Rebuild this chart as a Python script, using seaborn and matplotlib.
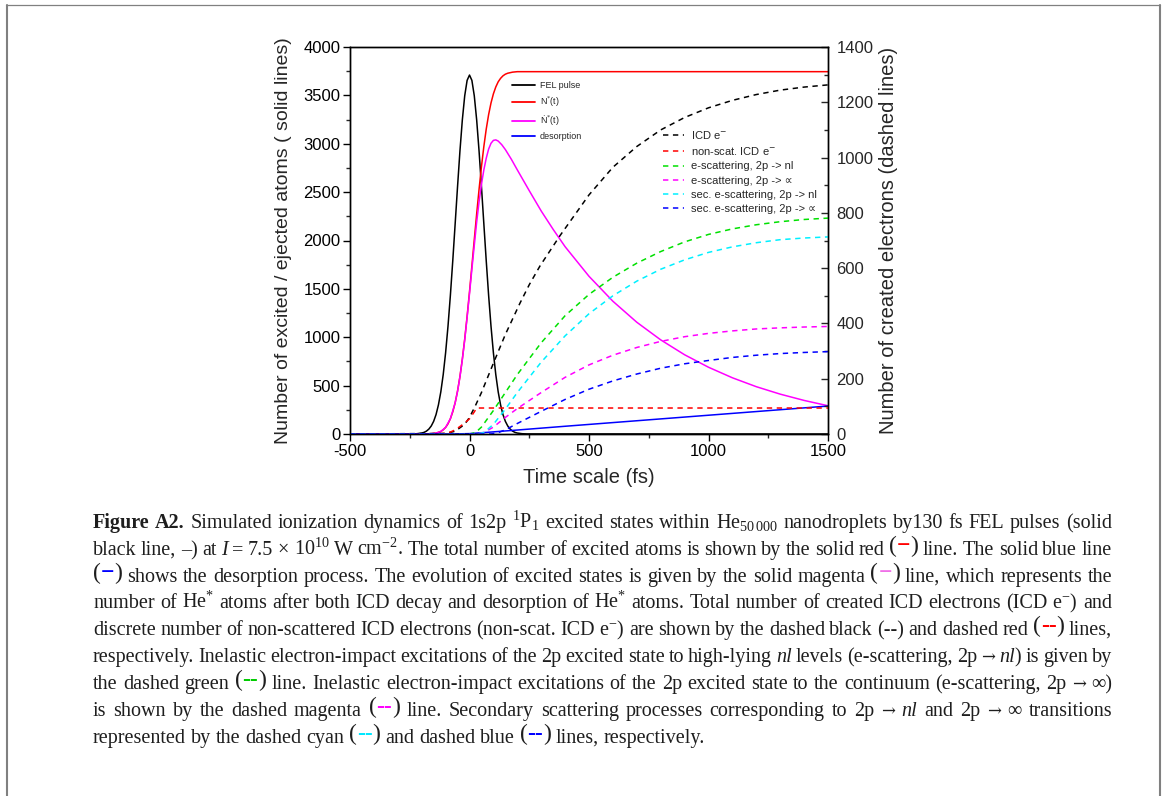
"""
Ionization dynamics of 1s2p 1P1 excited states in He nanodroplets (Figure A2).
Values read off the published figure; caption redrawn as text underneath.
"""
import matplotlib
matplotlib.use("Agg")
import matplotlib.pyplot as plt
import seaborn as sns
from matplotlib.lines import Line2D
from matplotlib.ticker import MultipleLocator

W, H = 1165, 796

# ── solid lines, left axis (atoms) ───────────────────────────────────────────
T_FEL = [-500, -240, -220, -200, -190, -180, -170, -160, -150, -140, -130, -120, -110, -100,
         -90, -80, -70, -60, -50, -40, -30, -20, -10, 0, 10, 20, 30, 40, 50, 60, 70, 80, 90,
         100, 110, 120, 130, 140, 150, 160, 170, 180, 190, 200, 220, 240, 1500]
FEL = [0, 1, 3, 10, 17, 30, 51, 83, 131, 201, 301, 436, 614, 839,
       1113, 1433, 1791, 2173, 2558, 2925, 3246, 3496, 3655, 3710, 3655, 3496, 3246, 2925,
       2558, 2173, 1791, 1433, 1113, 839, 614, 436, 301, 201, 131, 83, 51, 30, 17, 10, 3, 1, 0]

T_NSTAR = [-500, -200, -160, -140, -120, -110, -100, -90, -80, -70, -60, -50, -40, -30, -20,
           -10, 0, 10, 20, 30, 40, 50, 60, 70, 80, 90, 100, 110, 120, 130, 140, 150, 160,
           180, 200, 1500]
NSTAR = [0, 0, 3, 9, 26, 43, 68, 105, 158, 229, 323, 444, 594, 774, 982,
         1216, 1470, 1737, 2008, 2275, 2529, 2763, 2971, 3151, 3301, 3422, 3516, 3587, 3640,
         3676, 3702, 3719, 3729, 3740, 3745, 3745]

T_NDOT = [-500, -200, -160, -140, -120, -100, -80, -60, -50, -40, -30, -20, -10, 0, 10, 20,
          30, 40, 50, 60, 70, 80, 90, 100, 110, 120, 135, 150, 175, 200, 250, 300, 350, 400,
          500, 600, 700, 800, 900, 1000, 1100, 1200, 1300, 1400, 1500]
NDOT = [0, 0, 3, 9, 26, 68, 158, 322, 442, 590, 768, 972, 1205, 1450, 1705, 1950,
        2190, 2400, 2580, 2730, 2850, 2945, 3005, 3035, 3040, 3028, 2990, 2940, 2840, 2730,
        2515, 2305, 2115, 1936, 1630, 1372, 1155, 973, 819, 690, 581, 489, 412, 347, 292]

T_DESORB = [-500, -80, 0, 100, 200, 400, 700, 1000, 1300, 1500]
DESORB = [0, 0, 4, 22, 41, 80, 137, 194, 251, 289]

# ── dashed lines, right axis (electrons) ─────────────────────────────────────
T_ICD = [-500, -100, -60, -20, 0, 25, 50, 100, 150, 211, 250, 295, 379, 500, 600, 700, 800,
         900, 1000, 1100, 1200, 1300, 1400, 1500]
ICD = [0, 2, 10, 35, 60, 103, 150, 256, 360, 473, 540, 608, 718, 865, 965, 1040, 1100,
       1145, 1180, 1207, 1228, 1244, 1255, 1263]

T_NONSCAT = [-500, -140, -120, -100, -80, -60, -40, -20, 0, 20, 30, 1500]
NONSCAT = [0, 0, 1, 3, 7, 15, 27, 40, 55, 80, 94, 94]

T_ESC_NL = [-500, 0, 25, 50, 100, 150, 200, 300, 400, 500, 600, 700, 800, 900, 1000,
            1100, 1200, 1300, 1400, 1500]
ESC_NL = [0, 0, 5, 25, 85, 150, 215, 330, 428, 505, 567, 618, 660, 695, 722,
          742, 757, 768, 776, 781]

T_ESC_INF = [-500, 30, 60, 100, 150, 200, 300, 400, 500, 600, 700, 800, 900, 1000,
             1100, 1200, 1300, 1400, 1500]
ESC_INF = [0, 0, 5, 25, 60, 92, 150, 205, 250, 285, 313, 335, 352, 364,
           373, 380, 384, 387, 389]

T_SEC_NL = [-500, 30, 60, 100, 150, 200, 300, 400, 500, 600, 700, 800, 900, 1000,
            1100, 1200, 1300, 1400, 1500]
SEC_NL = [0, 0, 5, 35, 90, 150, 260, 355, 435, 500, 553, 596, 630, 657,
          677, 692, 703, 709, 713]

T_SEC_INF = [-500, 90, 120, 150, 200, 300, 400, 500, 600, 700, 800, 900, 1000, 1100,
             1200, 1300, 1400, 1500]
SEC_INF = [0, 0, 5, 15, 38, 82, 125, 162, 192, 217, 238, 254, 266, 277,
           285, 291, 295, 298]

SOLID = [
    ("FEL pulse", T_FEL, FEL, "black"),
    ("N$^{*}$(t)", T_NSTAR, NSTAR, "#ff0000"),
    ("Ṅ$^{*}$(t)", T_NDOT, NDOT, "#ff00ff"),
    ("desorption", T_DESORB, DESORB, "#0000ff"),
]
DASHED = [
    ("ICD e$^{-}$", T_ICD, ICD, "black"),
    ("non-scat. ICD e$^{-}$", T_NONSCAT, NONSCAT, "#ff0000"),
    ("e-scattering, 2p -> nl", T_ESC_NL, ESC_NL, "#00e000"),
    ("e-scattering, 2p -> ∝", T_ESC_INF, ESC_INF, "#ff00ff"),
    ("sec. e-scattering, 2p -> nl", T_SEC_NL, SEC_NL, "#00f0ff"),
    ("sec. e-scattering, 2p -> ∝", T_SEC_INF, SEC_INF, "#0000ff"),
]
DASH = (0, (3.5, 3))

sns.set_style("ticks")
plt.rcParams["font.family"] = ["Liberation Sans", "DejaVu Sans"]
plt.rcParams["axes.unicode_minus"] = False
plt.rcParams["mathtext.fontset"] = "custom"
plt.rcParams["mathtext.rm"] = "Liberation Serif"
plt.rcParams["mathtext.it"] = "Liberation Serif:italic"
plt.rcParams["mathtext.bf"] = "Liberation Serif:bold"

fig = plt.figure(figsize=(W / 100, H / 100), dpi=100)
ax = fig.add_axes([350 / W, 1 - 434 / H, 478 / W, 387 / H])
ax2 = ax.twinx()

for label, t, v, c in SOLID:
    sns.lineplot(x=t, y=v, ax=ax, color=c, linewidth=1.1)
for label, t, v, c in DASHED:
    sns.lineplot(x=t, y=v, ax=ax2, color=c, linewidth=1.1, linestyle=DASH)

ax.set_xlim(-500, 1500)
ax.set_ylim(0, 4000)
ax2.set_ylim(0, 1400)
ax.xaxis.set_major_locator(MultipleLocator(500))
ax.xaxis.set_minor_locator(MultipleLocator(250))
ax.yaxis.set_major_locator(MultipleLocator(500))
ax.yaxis.set_minor_locator(MultipleLocator(250))
ax2.yaxis.set_major_locator(MultipleLocator(200))
ax2.yaxis.set_minor_locator(MultipleLocator(100))

ax.tick_params(which="major", direction="out", length=5, width=1, labelsize=12, pad=2,
               top=False, right=False, colors="black")
ax.tick_params(which="minor", direction="out", length=3, width=1, top=False, right=False)
ax2.tick_params(axis="y", which="major", direction="in", length=5, width=1, labelsize=12, pad=6)
ax2.tick_params(axis="y", which="minor", direction="in", length=3, width=1)
for a in (ax, ax2):
    for s in a.spines.values():
        s.set_visible(True)
        s.set_linewidth(1.0)
        s.set_color("black")

ax.set_xlabel("Time scale (fs)", fontsize=14.5, labelpad=7)
ax.set_ylabel("Number of excited / ejected atoms ( solid lines)", fontsize=14, labelpad=8)
ax2.set_ylabel("Number of created electrons (dashed lines)", fontsize=14.5, labelpad=4)

h1 = [Line2D([], [], color=c, lw=1.3) for _, _, _, c in SOLID]
leg1 = ax.legend(h1, [s[0] for s in SOLID], loc="upper left",
                 bbox_to_anchor=(512 / W, 1 - 81 / H), bbox_transform=fig.transFigure,
                 frameon=False, fontsize=6.5, handlelength=2.6, handletextpad=0.45,
                 labelspacing=0.5, borderpad=0, borderaxespad=0)
h2 = [Line2D([], [], color=c, lw=1.1, linestyle=DASH) for _, _, _, c in DASHED]
leg2 = ax2.legend(h2, [s[0] for s in DASHED], loc="upper left",
                  bbox_to_anchor=(663 / W, 1 - 129 / H), bbox_transform=fig.transFigure,
                  frameon=False, fontsize=8, handlelength=1.85, handletextpad=0.7,
                  labelspacing=0.38, borderpad=0, borderaxespad=0)
for lg in (leg1, leg2):
    for t in lg.get_texts():
        t.set_math_fontfamily("dejavusans")

# ── page frame ───────────────────────────────────────────────────────────────
FRAME = "#808080"
fig.add_artist(Line2D([7 / W, 7 / W], [0, 1 - 4.5 / H], transform=fig.transFigure,
                      color=FRAME, lw=1.5))
fig.add_artist(Line2D([6 / W, 1160 / W], [1 - 4.5 / H, 1 - 4.5 / H],
                      transform=fig.transFigure, color=FRAME, lw=0.9))
fig.add_artist(Line2D([1159.5 / W, 1159.5 / W], [0, 1 - 4.5 / H],
                      transform=fig.transFigure, color=FRAME, lw=1.5))

# ── caption ──────────────────────────────────────────────────────────────────
CAP_FS = 14.5
SERIF = ["Liberation Serif", "DejaVu Serif"]
TXT = "#1e1e1e"
R = {}
B = {"weight": "bold"}
I = {"style": "italic"}
ARW = {"family": ["DejaVu Serif"], "size": 12}


def mark(color, dash):
    return ("MARK", {"color": color, "dash": dash})


CAPTION = [
    [("Figure A2.", B), ("  Simulated ionization dynamics of 1s2p $^{1}$P$_{1}$ excited states "
                        "within He$_{50\\,000}$ nanodroplets by130 fs FEL pulses (solid", R)],
    [("black line, –) at ", R), ("I", I),
     (" = 7.5 × 10$^{10}$ W cm$^{-2}$. The total number of excited atoms is shown by the solid red ", R),
     mark("#ff0000", "−"), (" line. The solid blue line", R)],
    [mark("#0000ff", "−"),
     (" shows the desorption process. The evolution of excited states is given by the solid magenta ", R),
     mark("#f070e8", "−"), (" line, which represents the", R)],
    [("number of He$^{*}$ atoms after both ICD decay and desorption of He$^{*}$ atoms. "
      "Total number of created ICD electrons (ICD e$^{-}$) and", R)],
    [("discrete number of non-scattered ICD electrons (non-scat. ICD e$^{-}$) are shown by the "
      "dashed black (--) and dashed red ", R), mark("#ff0000", "--"), (" lines,", R)],
    [("respectively. Inelastic electron-impact excitations of the 2p excited state to high-lying ", R),
     ("nl", I), (" levels (e-scattering, 2p ", R), ("→", ARW), (" ", R), ("nl", I),
     (") is given by", R)],
    [("the dashed green ", R), mark("#00cc00", "--"),
     (" line. Inelastic electron-impact excitations of the 2p excited state to the continuum "
      "(e-scattering, 2p ", R), ("→", ARW), (" ∞)", R)],
    [("is shown by the dashed magenta ", R), mark("#ff00ff", "--"),
     (" line. Secondary scattering processes corresponding to 2p ", R), ("→", ARW), (" ", R),
     ("nl", I), (" and 2p ", R), ("→", ARW), (" ∞ transitions", R)],
    [("represented by the dashed cyan ", R), mark("#00e8ff", "--"), (" and dashed blue ", R),
     mark("#0000ff", "--"), (" lines, respectively.", R)],
]
BASELINES = [528, 555, 582, 608, 635, 662, 689, 716, 743]
X0, X1 = 93, 1112


def tokenize(segments):
    toks, new = [], True
    for txt, st in segments:
        if txt == "MARK":
            big = {"size": 17, "dy": 3}
            toks.append([("(", big), (st["dash"], dict(big, color=st["color"], weight="bold")),
                         (")", big)])
            new = False
            continue
        for i, p in enumerate(txt.split(" ")):
            if i > 0:
                new = True
            if p == "":
                continue
            if new or not toks:
                toks.append([])
                new = False
            toks[-1].append((p, st))
    return toks


renderer = fig.canvas.get_renderer()


def make_piece(s, st):
    return fig.text(0, 0, s, fontsize=st.get("size", CAP_FS), family=st.get("family", SERIF),
                    color=st.get("color", TXT), fontweight=st.get("weight", "normal"),
                    fontstyle=st.get("style", "normal"), va="baseline", ha="left",
                    math_fontfamily="custom")


for k, (segments, base) in enumerate(zip(CAPTION, BASELINES)):
    toks = tokenize(segments)
    placed = []
    for tok in toks:
        row = []
        for s, st in tok:
            t = make_piece(s, st)
            row.append((t, t.get_window_extent(renderer).width, st.get("dy", 0)))
        placed.append(row)
    widths = [sum(w for _, w, _ in row) for row in placed]
    if k < len(CAPTION) - 1:
        gap = (X1 - X0 - sum(widths)) / (len(placed) - 1)
    else:
        gap = 4.8
    x = X0
    for row, wtok in zip(placed, widths):
        xx = x
        for t, w, dy in row:
            t.set_position((xx / W, 1 - (base - dy) / H))
            xx += w
        x += wtok + gap

fig.savefig("out.png", dpi=100)
